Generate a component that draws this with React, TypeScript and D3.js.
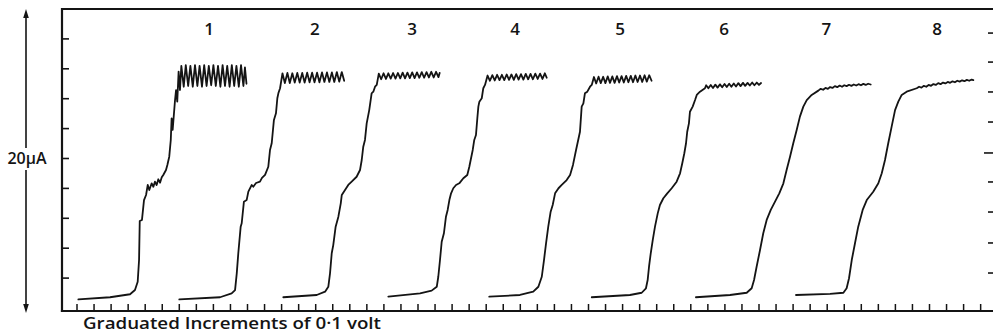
import React from "react";
import * as d3 from "d3";

// ---- data ----
const curveNames = ["1", "2", "3", "4", "5", "6", "7", "8"];
// label centre, in 0.1 V increments
const labelIncrement = [7.75, 13.95, 19.65, 25.7, 31.85, 37.95, 43.95, 50.45];
const currentTicks = [2, 4, 6, 8, 10, 12, 14, 16, 18];
const rightTicks = [2.34, 4.35, 6.42, 8.43, 10.37, 12.44, 14.45, 16.45, 18.39];
const incrementTicks = d3.range(0, 54);
const scaleLabel = "20μA";
const axisTitle = "Graduated Increments of 0·1 volt";

// [increment (0.1 V), current (µA)]
const curve1: [number, number][] = [
  [0.08, 0.58], [1.94, 0.72], [3.11, 0.92], [3.4, 1.2], [3.56, 1.76], [3.64, 3.21], [3.68, 5.82],
  [3.81, 5.89], [3.93, 7.22], [4.05, 7.56], [4.15, 8.23], [4.24, 7.89], [4.38, 8.34], [4.48, 8.11],
  [4.57, 8.45], [4.67, 8.23], [4.77, 8.61], [4.87, 8.38], [4.97, 8.74], [5.06, 8.9], [5.22, 9.23],
  [5.3, 9.57], [5.41, 10.12], [5.5, 11.24], [5.55, 12.69], [5.61, 11.91], [5.75, 13.91], [5.81, 14.58],
  [5.88, 13.8], [5.96, 15.81], [6.04, 14.58],
  [6.12, 16.2], [6.26, 14.8], [6.38, 16.25], [6.52, 14.85], [6.65, 16.2], [6.79, 14.8], [6.92, 16.25],
  [7.06, 14.85], [7.19, 16.2], [7.33, 14.8], [7.46, 16.25], [7.6, 14.85], [7.73, 16.2], [7.87, 14.9],
  [8.0, 16.25], [8.14, 14.85], [8.27, 16.2], [8.41, 14.8], [8.54, 16.25], [8.68, 14.85], [8.81, 16.2],
  [8.95, 14.8], [9.08, 16.25], [9.22, 14.85], [9.35, 16.2], [9.49, 14.8], [9.62, 16.25], [9.76, 14.85],
  [9.85, 16.1], [9.94, 15.0],
];

const curve2: [number, number][] = [
  [6.0, 0.58], [8.39, 0.72], [9.07, 0.98], [9.27, 1.2], [9.37, 2.32], [9.46, 3.66], [9.6, 5.44],
  [9.66, 5.67], [9.79, 7.11], [9.95, 7.22], [10.05, 7.78], [10.25, 8.23], [10.34, 8.11], [10.5, 8.36],
  [10.73, 8.45], [10.85, 8.7], [11.03, 8.9], [11.22, 9.45], [11.32, 10.57], [11.42, 11.02],
  [11.55, 12.58], [11.67, 13.02], [11.75, 14.03], [11.81, 14.36], [11.91, 14.7],
  [12.05, 15.7], [12.19, 15.05], [12.34, 15.72], [12.48, 15.05], [12.63, 15.7], [12.77, 15.08],
  [12.92, 15.72], [13.06, 15.08], [13.21, 15.72], [13.35, 15.08], [13.5, 15.74], [13.64, 15.1],
  [13.79, 15.74], [13.93, 15.1], [14.08, 15.74], [14.22, 15.1], [14.37, 15.76], [14.51, 15.12],
  [14.66, 15.76], [14.8, 15.12], [14.95, 15.76], [15.09, 15.12], [15.24, 15.78], [15.38, 15.14],
  [15.53, 15.78], [15.67, 15.2],
];

const curve3: [number, number][] = [
  [12.1, 0.72], [14.06, 0.87], [14.55, 1.09], [14.74, 1.42], [14.84, 2.32], [14.94, 3.66], [15.03, 4.21],
  [15.17, 5.44], [15.33, 6.11], [15.47, 7.0], [15.53, 7.56], [15.72, 7.89], [15.91, 8.23], [16.11, 8.45],
  [16.4, 8.78], [16.6, 9.23], [16.7, 9.9], [16.79, 10.79], [16.89, 11.24], [16.99, 12.35], [17.14, 13.24],
  [17.28, 14.36], [17.38, 14.47], [17.48, 14.8], [17.58, 14.92],
  [17.7, 15.68], [17.84, 15.3], [17.98, 15.7], [18.12, 15.32], [18.26, 15.7], [18.4, 15.34], [18.54, 15.72],
  [18.68, 15.34], [18.82, 15.72], [18.96, 15.36], [19.1, 15.74], [19.24, 15.36], [19.38, 15.74],
  [19.52, 15.38], [19.66, 15.76], [19.8, 15.38], [19.94, 15.76], [20.08, 15.4], [20.22, 15.78],
  [20.36, 15.4], [20.5, 15.78], [20.64, 15.42], [20.78, 15.8], [20.92, 15.42], [21.06, 15.8],
  [21.2, 15.44], [21.27, 15.72],
];

const curve4: [number, number][] = [
  [18.26, 0.76], [20.12, 0.98], [20.8, 1.16], [21.1, 1.42], [21.19, 2.09], [21.29, 3.21], [21.39, 4.43],
  [21.52, 5.0], [21.64, 6.11], [21.74, 6.56], [21.84, 7.22], [21.94, 7.67], [22.07, 8.01], [22.23, 8.23],
  [22.42, 8.34], [22.66, 8.68], [22.89, 8.9], [23.01, 9.45], [23.09, 9.9], [23.21, 10.57], [23.3, 11.24],
  [23.4, 11.57], [23.48, 12.69], [23.54, 13.47], [23.6, 13.8], [23.74, 14.03], [23.83, 14.7], [23.93, 14.92],
  [24.08, 15.55], [24.22, 15.2], [24.36, 15.58], [24.5, 15.22], [24.64, 15.6], [24.78, 15.24], [24.92, 15.6],
  [25.06, 15.24], [25.2, 15.62], [25.34, 15.26], [25.48, 15.62], [25.62, 15.26], [25.76, 15.64],
  [25.9, 15.28], [26.04, 15.64], [26.18, 15.28], [26.32, 15.66], [26.46, 15.3], [26.6, 15.66],
  [26.74, 15.3], [26.88, 15.68], [27.02, 15.32], [27.16, 15.68], [27.3, 15.32], [27.44, 15.7], [27.55, 15.4],
];

const curve5: [number, number][] = [
  [24.18, 0.76], [25.98, 0.87], [26.76, 1.09], [27.06, 1.42], [27.26, 2.09], [27.39, 3.21], [27.51, 4.33],
  [27.64, 5.44], [27.78, 6.44], [27.9, 6.89], [28.04, 7.67], [28.24, 8.01], [28.43, 8.23], [28.72, 8.56],
  [28.92, 8.9], [29.09, 9.57], [29.27, 10.57], [29.5, 11.79], [29.6, 13.47], [29.7, 13.69], [29.79, 14.36],
  [29.93, 14.47], [30.09, 14.8], [30.19, 14.92],
  [30.32, 15.45], [30.45, 15.02], [30.59, 15.47], [30.72, 15.04], [30.86, 15.47], [30.99, 15.04],
  [31.13, 15.49], [31.26, 15.06], [31.4, 15.49], [31.53, 15.06], [31.67, 15.51], [31.8, 15.08],
  [31.94, 15.51], [32.07, 15.08], [32.21, 15.53], [32.34, 15.1], [32.48, 15.53], [32.61, 15.1],
  [32.75, 15.55], [32.88, 15.12], [33.02, 15.55], [33.15, 15.12], [33.29, 15.57], [33.42, 15.14],
  [33.56, 15.57], [33.7, 15.2],
];

const curve6: [number, number][] = [
  [30.19, 0.72], [32.43, 0.87], [33.12, 1.02], [33.37, 1.32], [33.47, 1.87], [33.55, 2.76], [33.65, 3.66],
  [33.77, 4.55], [33.9, 5.44], [34.06, 6.33], [34.19, 6.89], [34.39, 7.34], [34.62, 7.67], [34.88, 8.01],
  [35.17, 8.45], [35.37, 9.01], [35.5, 9.68], [35.62, 10.35], [35.72, 11.02], [35.79, 11.79], [35.89, 12.35],
  [35.95, 13.13], [36.11, 13.47], [36.25, 13.91], [36.35, 14.25], [36.54, 14.47], [36.83, 14.7],
  [36.9, 14.9], [37.03, 14.7], [37.17, 14.92], [37.3, 14.72], [37.44, 14.94], [37.57, 14.74], [37.71, 14.96],
  [37.84, 14.76], [37.98, 14.98], [38.11, 14.78], [38.25, 15.0], [38.38, 14.8], [38.52, 15.02],
  [38.65, 14.82], [38.79, 15.04], [38.92, 14.84], [39.06, 15.06], [39.19, 14.86], [39.33, 15.06],
  [39.46, 14.88], [39.6, 15.08], [39.73, 14.9], [39.87, 15.08], [40.0, 14.92], [40.12, 15.05],
];

const curve7: [number, number][] = [
  [36.3, 0.72], [38.3, 0.87], [39.28, 1.02], [39.57, 1.32], [39.71, 1.87], [39.86, 2.76], [40.06, 3.88],
  [40.25, 5.0], [40.45, 5.89], [40.69, 6.56], [40.94, 7.11], [41.19, 7.67], [41.43, 8.34], [41.62, 9.23],
  [41.82, 10.12], [42.01, 11.02], [42.21, 11.91], [42.4, 12.8], [42.6, 13.47], [42.8, 13.91], [43.09, 14.25],
  [43.48, 14.54], [43.62, 14.66], [43.76, 14.6], [43.9, 14.72], [44.04, 14.66], [44.17, 14.78],
  [44.31, 14.72], [44.45, 14.84], [44.59, 14.77], [44.73, 14.88], [44.87, 14.8], [45.0, 14.9],
  [45.14, 14.84], [45.28, 14.93], [45.42, 14.86], [45.56, 14.95], [45.7, 14.88], [45.84, 14.97],
  [45.98, 14.9], [46.12, 14.99], [46.26, 14.92], [46.4, 15.0], [46.55, 14.95],
];

const curve8: [number, number][] = [
  [42.17, 0.87], [44.17, 0.94], [44.95, 1.02], [45.14, 1.32], [45.28, 1.99], [45.44, 3.21], [45.63, 4.33],
  [45.82, 5.44], [46.08, 6.56], [46.32, 7.22], [46.7, 7.78], [47.0, 8.34], [47.2, 9.01], [47.39, 9.9],
  [47.58, 11.02], [47.78, 12.13], [47.98, 13.24], [48.17, 13.8], [48.37, 14.25], [48.66, 14.47],
  [49.25, 14.7], [49.39, 14.8], [49.53, 14.74], [49.67, 14.86], [49.81, 14.8], [49.95, 14.92],
  [50.09, 14.86], [50.23, 14.98], [50.37, 14.92], [50.51, 15.04], [50.65, 14.97], [50.79, 15.08],
  [50.93, 15.02], [51.07, 15.12], [51.21, 15.06], [51.35, 15.16], [51.49, 15.1], [51.63, 15.2],
  [51.77, 15.14], [51.91, 15.23], [52.05, 15.17], [52.19, 15.26], [52.33, 15.2], [52.47, 15.28],
  [52.57, 15.24],
];

const curves = [curve1, curve2, curve3, curve4, curve5, curve6, curve7, curve8];

// ---- layout ----
const W = 993;
const H = 334;
const frameLeft = 62;
const frameTop = 9;
const frameBottom = 311;
const frameRight = 993;
const FONT = "'Open Sans', Lato, 'DejaVu Sans', sans-serif";
const INK = "#141414";

export default function App() {
  const x = d3.scaleLinear().domain([0, 53]).range([77, 77 + 53 * 17.05]);
  const y = d3.scaleLinear().domain([0, 20]).range([308, 9]);
  const line = d3
    .line<[number, number]>()
    .x((d) => x(d[0]))
    .y((d) => y(d[1]))
    .curve(d3.curveLinear);

  const arrowX = 26;
  const arrowTop = 9;
  const arrowBottom = 313;
  const labelY = 158;

  return (
    <svg
      width={W}
      height={H}
      viewBox={`0 0 ${W} ${H}`}
      style={{ position: "absolute", left: 0, top: 0, display: "block", background: "#fff" }}
    >
      <rect x={0} y={0} width={W} height={H} fill="#fff" />

      {/* frame */}
      <g stroke={INK} fill="none" strokeLinecap="square">
        <line x1={frameLeft} y1={frameTop} x2={frameRight} y2={frameTop} strokeWidth={2} />
        <line x1={frameLeft} y1={frameTop} x2={frameLeft} y2={frameBottom} strokeWidth={2.2} />
        <line x1={frameLeft} y1={frameBottom} x2={frameRight} y2={frameBottom} strokeWidth={2.2} />
      </g>

      {/* left current ticks */}
      <g stroke={INK} strokeWidth={1.6}>
        {currentTicks.map((v) => (
          <line key={"l" + v} x1={frameLeft} x2={frameLeft + 7} y1={y(v)} y2={y(v)} />
        ))}
      </g>

      {/* right current ticks */}
      <g stroke={INK} strokeWidth={1.6}>
        {rightTicks.map((v, i) => (
          <line
            key={"r" + i}
            x1={i === 4 ? frameRight - 9 : frameRight - 5}
            x2={frameRight}
            y1={y(v)}
            y2={y(v)}
          />
        ))}
      </g>

      {/* bottom voltage increment ticks */}
      <g stroke={INK} strokeWidth={1.5}>
        {incrementTicks.map((t) => (
          <line key={"b" + t} x1={x(t)} x2={x(t)} y1={frameBottom} y2={frameBottom - 7} />
        ))}
      </g>

      {/* polarograms */}
      <g fill="none" stroke={INK} strokeWidth={1.8} strokeLinejoin="round" strokeLinecap="round">
        {curves.map((c, i) => (
          <path key={"c" + i} d={line(c) || ""} />
        ))}
      </g>

      {/* curve numbers */}
      <g fontFamily={FONT} fontSize={17} fontWeight={600} fill={INK} textAnchor="middle">
        {curveNames.map((n, i) => (
          <text key={"n" + n} x={x(labelIncrement[i])} y={35}>
            {n}
          </text>
        ))}
      </g>

      {/* scale arrow */}
      <g stroke={INK} strokeWidth={1.6}>
        <line x1={arrowX} x2={arrowX} y1={arrowTop + 6} y2={labelY - 10} />
        <line x1={arrowX} x2={arrowX} y1={labelY + 12} y2={arrowBottom - 6} />
      </g>
      <path
        d={`M${arrowX},${arrowTop} L${arrowX - 2.8},${arrowTop + 9} L${arrowX + 2.8},${arrowTop + 9} Z`}
        fill={INK}
      />
      <path
        d={`M${arrowX},${arrowBottom} L${arrowX - 2.8},${arrowBottom - 9} L${arrowX + 2.8},${arrowBottom - 9} Z`}
        fill={INK}
      />
      <text x={27} y={labelY + 6} fontFamily={FONT} fontSize={16} fontWeight={600} fill={INK} textAnchor="middle">
        {scaleLabel}
      </text>

      {/* axis title */}
      <text
        x={83}
        y={329}
        fontFamily={FONT}
        fontSize={16}
        fontWeight={600}
        fill={INK}
        textLength={298}
        lengthAdjust="spacingAndGlyphs"
      >
        {axisTitle}
      </text>
    </svg>
  );
}
